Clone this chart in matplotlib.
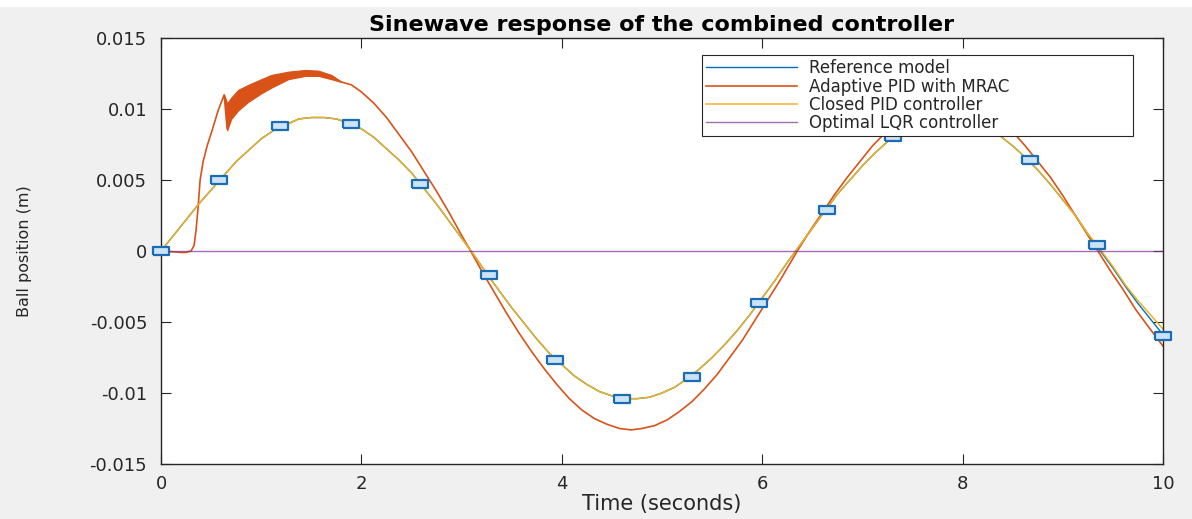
import matplotlib
matplotlib.use('Agg')
import matplotlib.pyplot as plt
from matplotlib.patches import Rectangle

plt.rcParams.update({
    'font.family': ['DejaVu Sans'],
    'axes.unicode_minus': False,
})

ref_t = [k / 8 for k in range(81)]
ref_y = [0, 0.0011, 0.0022, 0.0033, 0.0043, 0.0053, 0.0063, 0.0071, 0.0079,
         0.0085, 0.0089, 0.0093, 0.0094, 0.0094, 0.0093, 0.0090, 0.0086,
         0.0080, 0.0072, 0.0064, 0.0055, 0.0044, 0.0033, 0.0021, 0.0009,
         -0.0003, -0.0016, -0.0028, -0.0040, -0.0051, -0.0062, -0.0072, -0.0080,
         -0.0088, -0.0094, -0.0099, -0.0102, -0.0104, -0.0104, -0.0103, -0.0100,
         -0.0096, -0.0090, -0.0083, -0.0075, -0.0066, -0.0056, -0.0045, -0.0033,
         -0.0021, -0.0008, 0.0004, 0.0016, 0.0028, 0.0040, 0.0050, 0.0060,
         0.0069, 0.0077, 0.0083, 0.0088, 0.0092, 0.0094, 0.0095, 0.0094,
         0.0091, 0.0087, 0.0081, 0.0074, 0.0066, 0.0057, 0.0047, 0.0036,
         0.0025, 0.0012, 0.0000, -0.0012, -0.0025, -0.0037, -0.0048, -0.0059]

pid_y = [0, 0.0011, 0.0022, 0.0033, 0.0043, 0.0053, 0.0063, 0.0071, 0.0079,
         0.0085, 0.0089, 0.0093, 0.0094, 0.0094, 0.0093, 0.0090, 0.0086,
         0.0080, 0.0072, 0.0064, 0.0055, 0.0044, 0.0033, 0.0021, 0.0009,
         -0.0003, -0.0016, -0.0028, -0.0040, -0.0051, -0.0062, -0.0072, -0.0080,
         -0.0088, -0.0094, -0.0099, -0.0102, -0.0104, -0.0104, -0.0103, -0.0100,
         -0.0096, -0.0090, -0.0083, -0.0075, -0.0066, -0.0056, -0.0045, -0.0033,
         -0.0021, -0.0008, 0.0004, 0.0016, 0.0028, 0.0040, 0.0050, 0.0060,
         0.0069, 0.0077, 0.0083, 0.0088, 0.0092, 0.0094, 0.0095, 0.0094,
         0.0091, 0.0087, 0.0081, 0.0074, 0.0066, 0.0057, 0.0047, 0.0036,
         0.0025, 0.0012, 0.0001, -0.0011, -0.0024, -0.0035, -0.0045, -0.0055]

marker_t = [0, 0.58, 1.19, 1.9, 2.58, 3.27, 3.93, 4.6, 5.3, 5.97, 6.65, 7.31, 7.98,
            8.67, 9.34, 10.0]
marker_y = [0, 0.0050, 0.00877, 0.00894, 0.00472, -0.0017, -0.00765, -0.01043,
            -0.00889, -0.00367, 0.00289, 0.00802, 0.0094, 0.00641, 0.00039, -0.00599]

mrac_t = [0, 0.1, 0.2, 0.25, 0.3, 0.33, 0.35, 0.37, 0.39, 0.42, 0.46, 0.51, 0.57,
          0.63, 0.66, 0.7, 0.77, 0.87, 1.0, 1.1, 1.27, 1.44, 1.57, 1.7, 1.8,
          1.9, 2.0, 2.125, 2.25, 2.375, 2.5, 2.625, 2.75, 2.875, 3.0, 3.09,
          3.2, 3.325, 3.45, 3.575, 3.7, 3.825, 3.95, 4.075, 4.2, 4.325, 4.45, 4.575, 4.69,
          4.8, 4.925, 5.05, 5.175, 5.3, 5.425, 5.55, 5.675, 5.8, 5.925, 6.05, 6.175, 6.3, 6.35,
          6.475, 6.6, 6.725, 6.85, 6.975, 7.1, 7.225, 7.35, 7.475, 7.6, 7.725, 7.88,
          8.0, 8.125, 8.25, 8.375, 8.5, 8.625, 8.75, 8.875, 9.0, 9.125, 9.25, 9.35,
          9.475, 9.6, 9.725, 9.85, 10.0]
mrac_y = [0, -0.00005, -0.0001, -0.0001, 0.0, 0.0004, 0.0015, 0.0031, 0.0050, 0.0063,
          0.0074, 0.0085, 0.0099, 0.0110, 0.0086, 0.0098, 0.0107, 0.0112, 0.0117,
          0.0120, 0.0124, 0.0126, 0.0125, 0.0123, 0.0119,
          0.0117, 0.0112, 0.0104, 0.0094, 0.0082, 0.0070, 0.0056, 0.0042, 0.0027,
          0.0011, 0.0,
          -0.0014, -0.0029, -0.0044, -0.0058, -0.0071, -0.0083, -0.0094, -0.0104,
          -0.0112, -0.0118, -0.0122, -0.0125, -0.0126,
          -0.0125, -0.0123, -0.0119, -0.0113, -0.0106, -0.0097, -0.0087, -0.0075,
          -0.0063, -0.0049, -0.0035, -0.0021, -0.0006, 0.0,
          0.0014, 0.0027, 0.0040, 0.0052, 0.0063, 0.0074, 0.0083, 0.0091, 0.0097,
          0.0102, 0.0105, 0.0106,
          0.0105, 0.0102, 0.0098, 0.0092, 0.0084, 0.0074, 0.0063, 0.0052, 0.0039,
          0.0025, 0.0011, 0.0,
          -0.0014, -0.0027, -0.0041, -0.0053, -0.0067]

# chattering band of the adaptive controller
band_t = [0.63, 0.66, 0.7, 0.77, 0.87, 1.0, 1.1, 1.27, 1.44, 1.57, 1.7, 1.8]
band_hi = [0.0110, 0.0104, 0.0108, 0.01135, 0.0117, 0.0121, 0.0124, 0.01263, 0.01275,
           0.0127, 0.0124, 0.0119]
band_lo = [0.0110, 0.0085, 0.0093, 0.0099, 0.0105, 0.0111, 0.0115, 0.0121, 0.01233,
           0.01233, 0.0121, 0.0119]

lqr_t = [0, 10]
lqr_y = [0, 0]

labels = ['Reference model', 'Adaptive PID with MRAC', 'Closed PID controller',
          'Optimal LQR controller']
xticks = [0, 2, 4, 6, 8, 10]
yticks = [-0.015, -0.01, -0.005, 0, 0.005, 0.01, 0.015]
ytick_labels = ['-0.015', '-0.01', '-0.005', '0', '0.005', '0.01', '0.015']

c_blue, c_orange, c_yellow, c_purple = '#0072BD', '#D95319', '#EDB120', '#7E2F8E'
dark = '#262626'

fig = plt.figure(figsize=(11.92, 5.19), dpi=100)
fig.patch.set_facecolor('#f0f0f0')
fig.add_artist(Rectangle((0, 1 - 6 / 519), 1, 6 / 519, transform=fig.transFigure,
                         color='white', zorder=0))
ax = fig.add_axes([0.1351, 0.1060, 0.8406, 0.8208])
ax.set_facecolor('white')

ax.plot(ref_t, ref_y, color=c_blue, lw=1.0, label=labels[0])
ax.plot(mrac_t, mrac_y, color=c_orange, lw=1.2, label=labels[1])
ax.fill_between(band_t, band_lo, band_hi, color=c_orange, lw=0.8)
ax.plot(ref_t, pid_y, color=c_yellow, lw=1.1, label=labels[2])
ax.plot(lqr_t, lqr_y, color=c_purple, lw=1.0, alpha=0.7, label=labels[3])
ax.plot(marker_t, marker_y, ls='none',
        marker=[(-1, -0.5), (1, -0.5), (1, 0.5), (-1, 0.5), (-1, -0.5)],
        ms=12, mfc='#cbe3f5', mec='#1a6db5', mew=1.6, zorder=5, clip_on=False)

ax.set_xlim(0, 10)
ax.set_ylim(-0.015, 0.015)
ax.set_xticks(xticks)
ax.set_yticks(yticks)
ax.set_yticklabels(ytick_labels)
ax.tick_params(direction='in', length=7, width=0.8, top=True, right=True,
               colors=dark, labelsize=13)
ax.tick_params(axis='x', pad=8)
ax.tick_params(axis='y', pad=10)
for s in ax.spines.values():
    s.set_color(dark)
    s.set_linewidth(1.0)

ax.set_title('Sinewave response of the combined controller', fontsize=16,
             fontweight='bold', color='black', pad=5)
ax.set_xlabel('Time (seconds)', fontsize=15, color=dark, labelpad=1)
ax.set_ylabel('Ball position (m)', fontsize=11.5, color=dark)
ax.yaxis.set_label_coords(-0.129, 0.5)

leg = ax.legend(loc='upper left', bbox_to_anchor=(0.5395, 0.765, 0.4306, 0.195),
                mode='expand', borderaxespad=0, fontsize=12, handlelength=5.5,
                handletextpad=0.7, borderpad=0.25, labelspacing=0.02,
                fancybox=False, framealpha=1, edgecolor=dark)
leg.get_frame().set_linewidth(0.8)
for txt in leg.get_texts():
    txt.set_color(dark)

plt.savefig('out.png', dpi=100, facecolor=fig.get_facecolor())
plt.close()
